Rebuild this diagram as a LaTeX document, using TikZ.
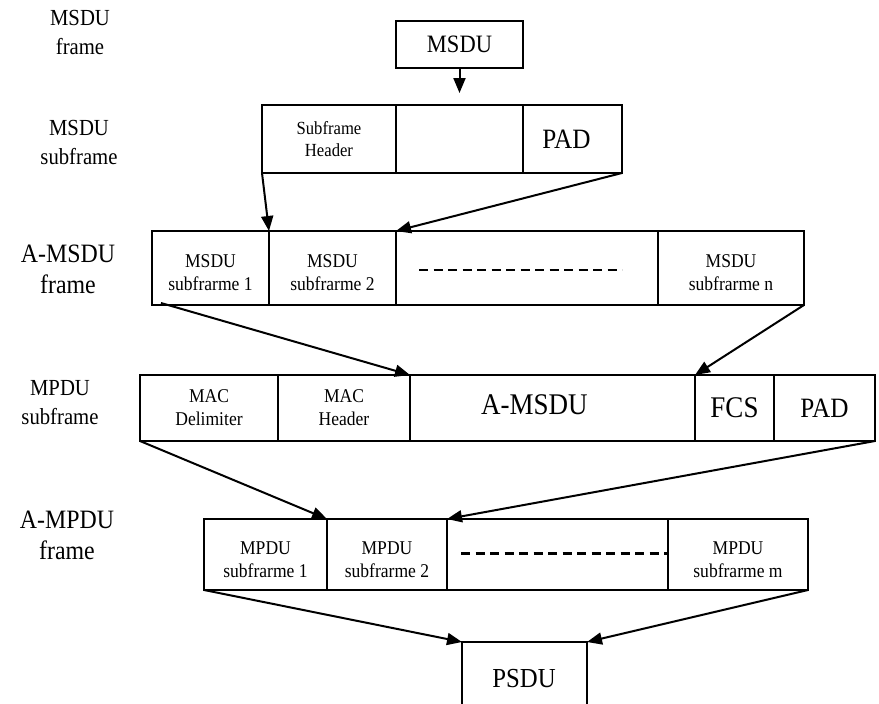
\documentclass[tikz,border=0pt]{standalone}
\usepackage{fontspec}
\setmainfont[FakeStretch=0.9]{Liberation Serif}
\usetikzlibrary{arrows.meta,calc}
\begin{document}
\begin{tikzpicture}[x=1pt,y=-1pt,
  cell/.style={draw, line width=1.6pt, inner sep=0pt, outer sep=0pt, anchor=north west},
  small/.style={font=\fontsize{19.5}{23}\selectfont, align=center, inner sep=0pt},
  lbl/.style={font=\fontsize{23}{29}\selectfont, align=center, inner sep=0pt},
  biglbl/.style={font=\fontsize{26.5}{31}\selectfont, align=center, inner sep=0pt},
  arr/.style={-{Triangle[length=15pt,width=12pt]}, line width=2pt},
  dashln/.style={line width=2.8pt, dash pattern=on 9pt off 5.5pt}]
\clip (0,0) rectangle (879,704);
% row labels
\node[lbl] (l1) at (80,32) {MSDU\\frame};
\node[lbl] (l2) at (79,142) {MSDU\\subframe};
\node[biglbl] (l3) at (68,269) {A-MSDU\\frame};
\node[lbl] (l4) at (60,403) {MPDU\\subframe};
\node[biglbl] (l5) at (67,535) {A-MPDU\\frame};
% MSDU
\node[cell, minimum width=127pt, minimum height=47pt] (msdu) at (396,21) {};
\node[inner sep=0pt, font=\fontsize{25}{30}\selectfont] (msdut) at (msdu.center) {MSDU};
% row 2
\node[cell, minimum width=134pt, minimum height=68pt] (s1) at (262,105) {};
\node[cell, minimum width=127pt, minimum height=68pt] (s2) at (396,105) {};
\node[cell, minimum width=99pt, minimum height=68pt] (s3) at (523,105) {};
\node[small, font=\fontsize{18.5}{22}\selectfont] (s1t) at (s1.center) {Subframe\\Header};
\node[inner sep=0pt, font=\fontsize{28}{32}\selectfont] (s3t) at ($(s3.center)+(-6,0)$) {PAD};
% row 3
\node[cell, minimum width=117pt, minimum height=74pt] (a1) at (152,231) {};
\node[cell, minimum width=127pt, minimum height=74pt] (a2) at (269,231) {};
\node[cell, minimum width=262pt, minimum height=74pt] (a3) at (396,231) {};
\node[cell, minimum width=146pt, minimum height=74pt] (a4) at (658,231) {};
\node[small] (a1t) at ($(a1.center)+(0,5)$) {MSDU\\subfrarme 1};
\node[small] (a2t) at ($(a2.center)+(0,5)$) {MSDU\\subfrarme 2};
\node[small] (a4t) at ($(a4.center)+(0,5)$) {MSDU\\subfrarme n};
\draw[dashln] ($(a3.west)+(23,2)$) -- ($(a3.east)+(-36,2)$);
% row 4
\node[cell, minimum width=138pt, minimum height=66pt] (m1) at (140,375) {};
\node[cell, minimum width=132pt, minimum height=66pt] (m2) at (278,375) {};
\node[cell, minimum width=285pt, minimum height=66pt] (m3) at (410,375) {};
\node[cell, minimum width=79pt, minimum height=66pt] (m4) at (695,375) {};
\node[cell, minimum width=101pt, minimum height=66pt] (m5) at (774,375) {};
\node[small] (m1t) at (m1.center) {MAC\\Delimiter};
\node[small] (m2t) at (m2.center) {MAC\\Header};
\node[inner sep=0pt, font=\fontsize{30}{34}\selectfont] (m3t) at ($(m3.center)+(-18,-3)$) {A-MSDU};
\node[inner sep=0pt, font=\fontsize{30}{34}\selectfont] (m4t) at (m4.center) {FCS};
\node[inner sep=0pt, font=\fontsize{28}{32}\selectfont] (m5t) at (m5.center) {PAD};
% row 5
\node[cell, minimum width=123pt, minimum height=71pt] (p1) at (204,519) {};
\node[cell, minimum width=120pt, minimum height=71pt] (p2) at (327,519) {};
\node[cell, minimum width=221pt, minimum height=71pt] (p3) at (447,519) {};
\node[cell, minimum width=140pt, minimum height=71pt] (p4) at (668,519) {};
\node[small] (p1t) at ($(p1.center)+(0,5)$) {MPDU\\subfrarme 1};
\node[small] (p2t) at ($(p2.center)+(0,5)$) {MPDU\\subfrarme 2};
\node[small] (p4t) at ($(p4.center)+(0,5)$) {MPDU\\subfrarme m};
\draw[dashln] ($(p3.west)+(14,-1)$) -- ($(p3.east)+(0,-1)$);
% PSDU
\node[cell, minimum width=125pt, minimum height=80pt] (psdu) at (462,642) {};
\node[inner sep=0pt, font=\fontsize{27.5}{32}\selectfont] (psdut) at (524,679) {PSDU};
% arrows
\coordinate (t0) at ($(msdu.south)+(0,25)$);
\draw[arr] (msdu.south) -- (t0);
\draw[arr] (s1.south west) -- (a2.north west);
\draw[arr] (s3.south east) -- (a3.north west);
\draw[arr] ($(a1.south west)+(9,-2)$) -- (m3.north west);
\draw[arr] (a4.south east) -- (m4.north west);
\draw[arr] (m1.south west) -- (p2.north west);
\draw[arr] (m5.south east) -- (p3.north west);
\draw[arr] (p1.south west) -- (psdu.north west);
\draw[arr] (p4.south east) -- (psdu.north east);
\end{tikzpicture}
\end{document}
